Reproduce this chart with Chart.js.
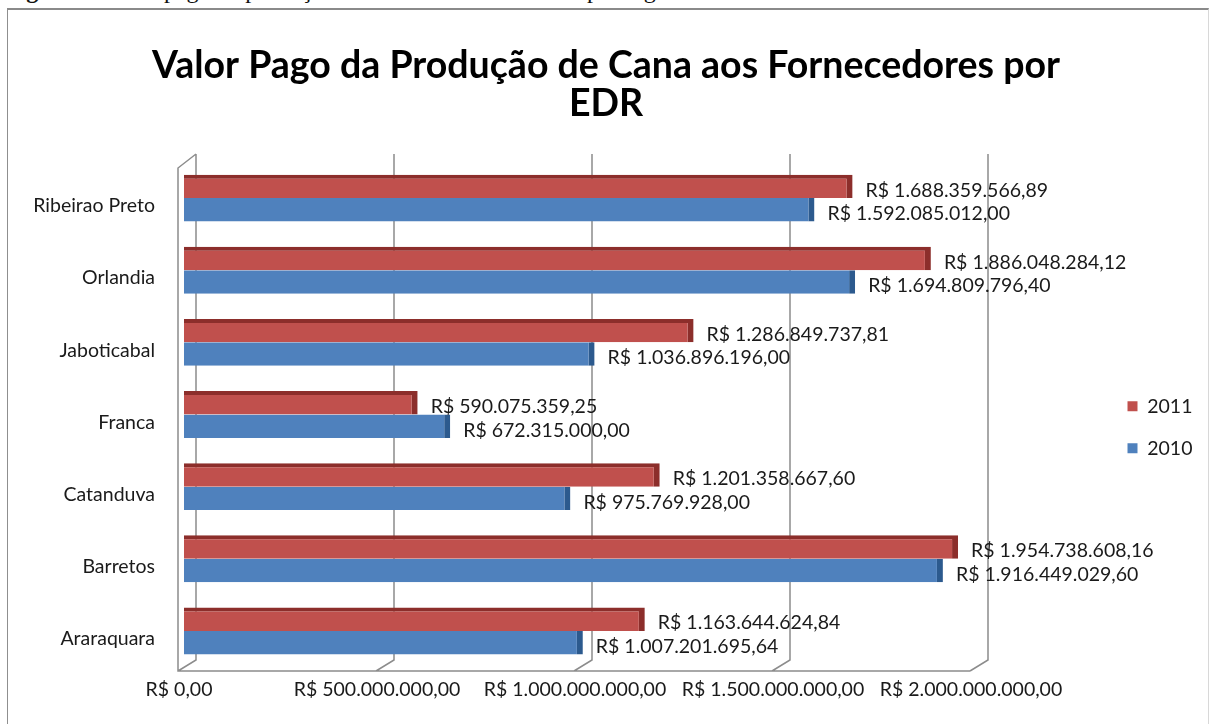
<!DOCTYPE html>
<html>
<head>
<meta charset="utf-8">
<script src="https://cdn.jsdelivr.net/npm/chart.js@4.4.1/dist/chart.umd.min.js"></script>
<style>
  html, body { margin: 0; padding: 0; background: #fff; overflow: hidden; }
  #wrap { position: relative; width: 1212px; height: 724px; overflow: hidden; }
  #caption { position: absolute; left: 5px; top: -22px; font: 24px "Liberation Serif", serif; line-height: 24px; color: #111; white-space: nowrap; }
  #frame { position: absolute; left: 7px; top: 8px; width: 1200px; height: 740px; border-left: 1px solid #8f8f8f; border-top: 2px solid #8a8a8a; border-right: 1px solid #d8d8d8; background: #fff; }
  #c { position: absolute; left: 0; top: 0; }
</style>
</head>
<body>
<div id="wrap">
  <div id="caption"><b>Figura 6:</b> Valor pago da produção de cana aos fornecedores por região</div>
  <div id="frame"></div>
  <canvas id="c" width="1212" height="724"></canvas>
</div>
<script>
const titleLines = ['Valor Pago da Produção de Cana aos Fornecedores por', 'EDR'];
const categories = ['Ribeirao Preto', 'Orlandia', 'Jaboticabal', 'Franca', 'Catanduva', 'Barretos', 'Araraquara'];
const seriesNames = ['2011', '2010'];
const values2011 = [1688359566.89, 1886048284.12, 1286849737.81, 590075359.25, 1201358667.60, 1954738608.16, 1163644624.84];
const values2010 = [1592085012.00, 1694809796.40, 1036896196.00, 672315000.00, 975769928.00, 1916449029.60, 1007201695.64];
const xTickLabels = ['R$ 0,00', 'R$ 500.000.000,00', 'R$ 1.000.000.000,00', 'R$ 1.500.000.000,00', 'R$ 2.000.000.000,00'];
const xMax = 2000000000;
const xStep = 500000000;

function brl(v) {
  const parts = v.toFixed(2).split('.');
  return 'R$ ' + parts[0].replace(/\B(?=(\d{3})+(?!\d))/g, '.') + ',' + parts[1];
}

const FONT = 'Lato';
const FS = 19.5;
const GRID = '#8c8c8c';

const wallPlugin = {
  id: 'wall3d',
  beforeDatasetsDraw(chart) {
    const x = chart.scales.x;
    const a = chart.chartArea;
    const ctx = chart.ctx;
    const back = 12, front = -6;
    const topBack = a.top - 8, botBack = a.bottom - 7, floor = a.bottom + 4;
    ctx.save();
    ctx.strokeStyle = GRID;
    ctx.lineWidth = 1.5;
    ctx.beginPath();
    for (let v = 0; v <= xMax; v += xStep) {
      const px = x.getPixelForValue(v);
      ctx.moveTo(px + back, topBack);
      ctx.lineTo(px + back, botBack);
      ctx.lineTo(px + front, floor);
    }
    const p0 = x.getPixelForValue(0);
    const pN = x.getPixelForValue(xMax);
    ctx.moveTo(p0 + back, topBack);
    ctx.lineTo(p0 + front, topBack + 14);
    ctx.lineTo(p0 + front, floor);
    ctx.lineTo(pN + front, floor);
    ctx.stroke();
    ctx.restore();
  }
};

const labelPlugin = {
  id: 'valueLabels',
  afterDatasetsDraw(chart) {
    const ctx = chart.ctx;
    ctx.save();
    ctx.font = FS + 'px ' + FONT;
    ctx.fillStyle = '#1a1a1a';
    ctx.textBaseline = 'middle';
    ctx.textAlign = 'left';
    chart.data.datasets.forEach((ds, di) => {
      const meta = chart.getDatasetMeta(di);
      meta.data.forEach((bar, i) => {
        ctx.fillText(brl(ds.data[i]), bar.x + 13, bar.y + 4);
      });
    });
    ctx.restore();
  }
};

const legendPlace = {
  id: 'legendPlace',
  afterInit(chart) {
    const lg = chart.legend;
    const fit = lg.fit.bind(lg);
    lg.fit = function () { fit(); this.width = 236; };
  },
  afterLayout(chart) {
    const lg = chart.legend;
    lg.left = 1105; lg.right = 1212;
    lg.top = 374; lg.bottom = 700;
  }
};

new Chart(document.getElementById('c'), {
  type: 'bar',
  data: {
    labels: categories,
    datasets: [
      {
        label: seriesNames[0],
        data: values2011,
        backgroundColor: '#c0504d',
        borderColor: '#8c2e2b',
        borderWidth: { top: 4, right: 6, bottom: 0, left: 0 },
        borderSkipped: false,
        categoryPercentage: 0.65,
        barPercentage: 1.0
      },
      {
        label: seriesNames[1],
        data: values2010,
        backgroundColor: '#4f81bd',
        borderColor: '#2c5a8e',
        borderWidth: { top: 0, right: 6, bottom: 0, left: 0 },
        borderSkipped: false,
        categoryPercentage: 0.65,
        barPercentage: 1.0
      }
    ]
  },
  options: {
    indexAxis: 'y',
    responsive: false,
    animation: false,
    events: [],
    layout: { padding: { top: 0, left: 0, right: 0, bottom: 22 } },
    scales: {
      x: {
        min: 0,
        max: xMax,
        grid: { display: false, drawTicks: false },
        border: { display: false },
        ticks: {
          stepSize: xStep,
          padding: 11,
          labelOffset: -5,
          color: '#1a1a1a',
          font: { family: FONT, size: FS },
          maxRotation: 0,
          autoSkip: false,
          callback: (v, i) => xTickLabels[i]
        },
        afterFit: (s) => { s.height = 35; }
      },
      y: {
        grid: { display: false, drawTicks: false },
        border: { display: false },
        ticks: {
          padding: 29,
          labelOffset: 8,
          color: '#1a1a1a',
          font: { family: FONT, size: FS }
        },
        afterFit: (s) => { s.width = 184; }
      }
    },
    plugins: {
      title: {
        display: true,
        text: titleLines,
        color: '#000',
        font: { family: FONT, size: 37.5, weight: 'bold', lineHeight: 38 / 37.5 },
        padding: { top: 47, bottom: 39 }
      },
      legend: {
        display: true,
        position: 'right',
        align: 'start',
        labels: {
          boxWidth: 10,
          boxHeight: 10,
          padding: 22.5,
          color: '#1a1a1a',
          font: { family: FONT, size: FS },
          generateLabels: (chart) => Chart.defaults.plugins.legend.labels.generateLabels(chart).map(l => Object.assign(l, { lineWidth: 0, strokeStyle: 'rgba(0,0,0,0)' }))
        }
      },
      tooltip: { enabled: false }
    }
  },
  plugins: [wallPlugin, labelPlugin, legendPlace]
});
</script>
</body>
</html>
